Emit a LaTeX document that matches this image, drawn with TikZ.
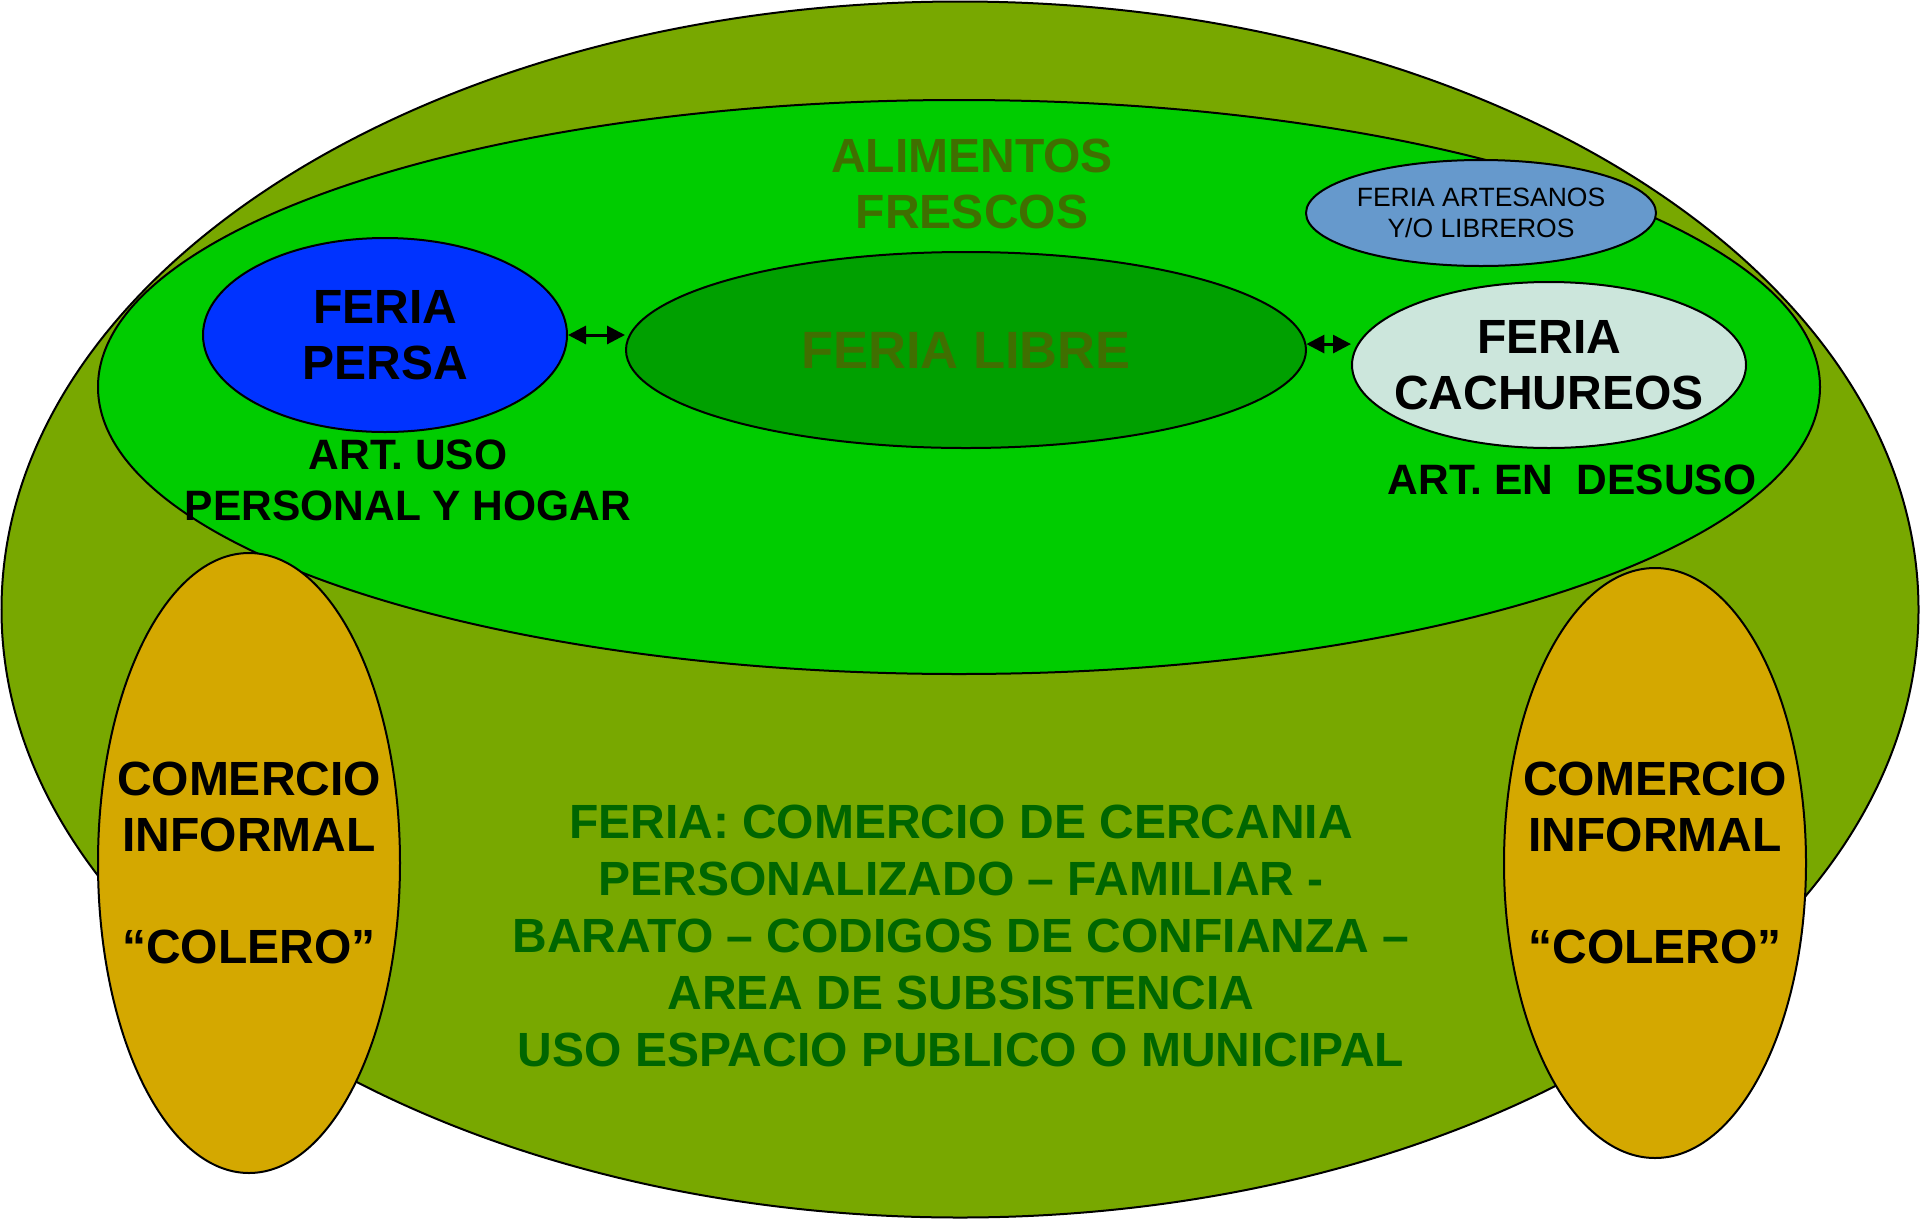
\documentclass[tikz,border=0pt]{standalone}
\usepackage{fontspec}
\setmainfont{Liberation Sans}
\usetikzlibrary{arrows.meta,positioning,shapes.geometric}
\definecolor{olivo}{HTML}{78A800}
\definecolor{verdeclaro}{HTML}{00CC00}
\definecolor{verdelibre}{HTML}{00A000}
\definecolor{azulpersa}{HTML}{0033FF}
\definecolor{cachureo}{HTML}{CCE6DC}
\definecolor{artesano}{HTML}{6699CC}
\definecolor{dorado}{HTML}{D4A800}
\definecolor{textoolivo}{HTML}{3F6F00}
\definecolor{textoverde}{HTML}{006600}

\tikzset{
  zona/.style={ellipse, draw=black, line width=2pt, inner sep=-120pt, align=center},
  titulo/.style={font=\bfseries\fontsize{48}{56}\selectfont, align=center},
  enlace/.style={{Triangle[length=18pt,width=18pt]}-{Triangle[length=18pt,width=18pt]}, line width=3pt}
}

\begin{document}
\begin{tikzpicture}[x=1pt,y=-1pt]
    \useasboundingbox (0,0) rectangle (1920,1219);
    % Ellipses of fondo
    \node[zona, fill=olivo, minimum width=1917, minimum height=1216] (outer) at (960,609.5) {};
    \node[zona, fill=verdeclaro, minimum width=1722, minimum height=574] (inner) at (959,387) {};
    \node[titulo, text=textoolivo] (alimentos) at (972,184) {ALIMENTOS\\FRESCOS};
    % Ferias
    \node[zona, fill=verdelibre, minimum width=680, minimum height=196,
          text=textoolivo, font=\bfseries\fontsize{52.5}{60}\selectfont] (libre) at (966,350) {FERIA LIBRE};
    \node[zona, fill=azulpersa, minimum width=364, minimum height=194, titulo] (persa) at (385,335) {FERIA\\PERSA};
    \node[zona, fill=cachureo, minimum width=394, minimum height=166, titulo] (cachureos) at (1549,365) {FERIA\\CACHUREOS};
    \node[zona, fill=artesano, minimum width=350, minimum height=106,
          font=\fontsize{26.5}{31}\selectfont] (artesanos) at (1481,213) {FERIA ARTESANOS\\Y/O LIBREROS};
    \node[titulo, font=\bfseries\fontsize{42.5}{51}\selectfont] (usopersa) at (408,480) {ART. USO\\PERSONAL Y HOGAR};
    \node[titulo, font=\bfseries\fontsize{42.5}{51}\selectfont] (desuso) at (1572,480) {ART. EN\ \ DESUSO};
    % Conexiones
    \draw[enlace] (persa.east) -- (persa.east -| libre.west);
    \draw[enlace] (libre.1.5) -- (libre.1.5 -| cachureos.west);
    % Comercio informal
    \node[zona, fill=dorado, minimum width=302, minimum height=620, titulo] (informalL) at (249,863)
      {COMERCIO\\INFORMAL\\[56pt]“COLERO”};
    \node[zona, fill=dorado, minimum width=302, minimum height=590, titulo] (informalR) at (1655,863)
      {COMERCIO\\INFORMAL\\[56pt]“COLERO”};
    % Texto central
    \node[titulo, text=textoverde, font=\bfseries\fontsize{48}{57}\selectfont] (cercania) at (961,936)
      {FERIA: COMERCIO DE CERCANIA\\PERSONALIZADO – FAMILIAR -\\BARATO – CODIGOS DE CONFIANZA –\\AREA DE SUBSISTENCIA\\USO ESPACIO PUBLICO O MUNICIPAL};
\end{tikzpicture}
\end{document}
